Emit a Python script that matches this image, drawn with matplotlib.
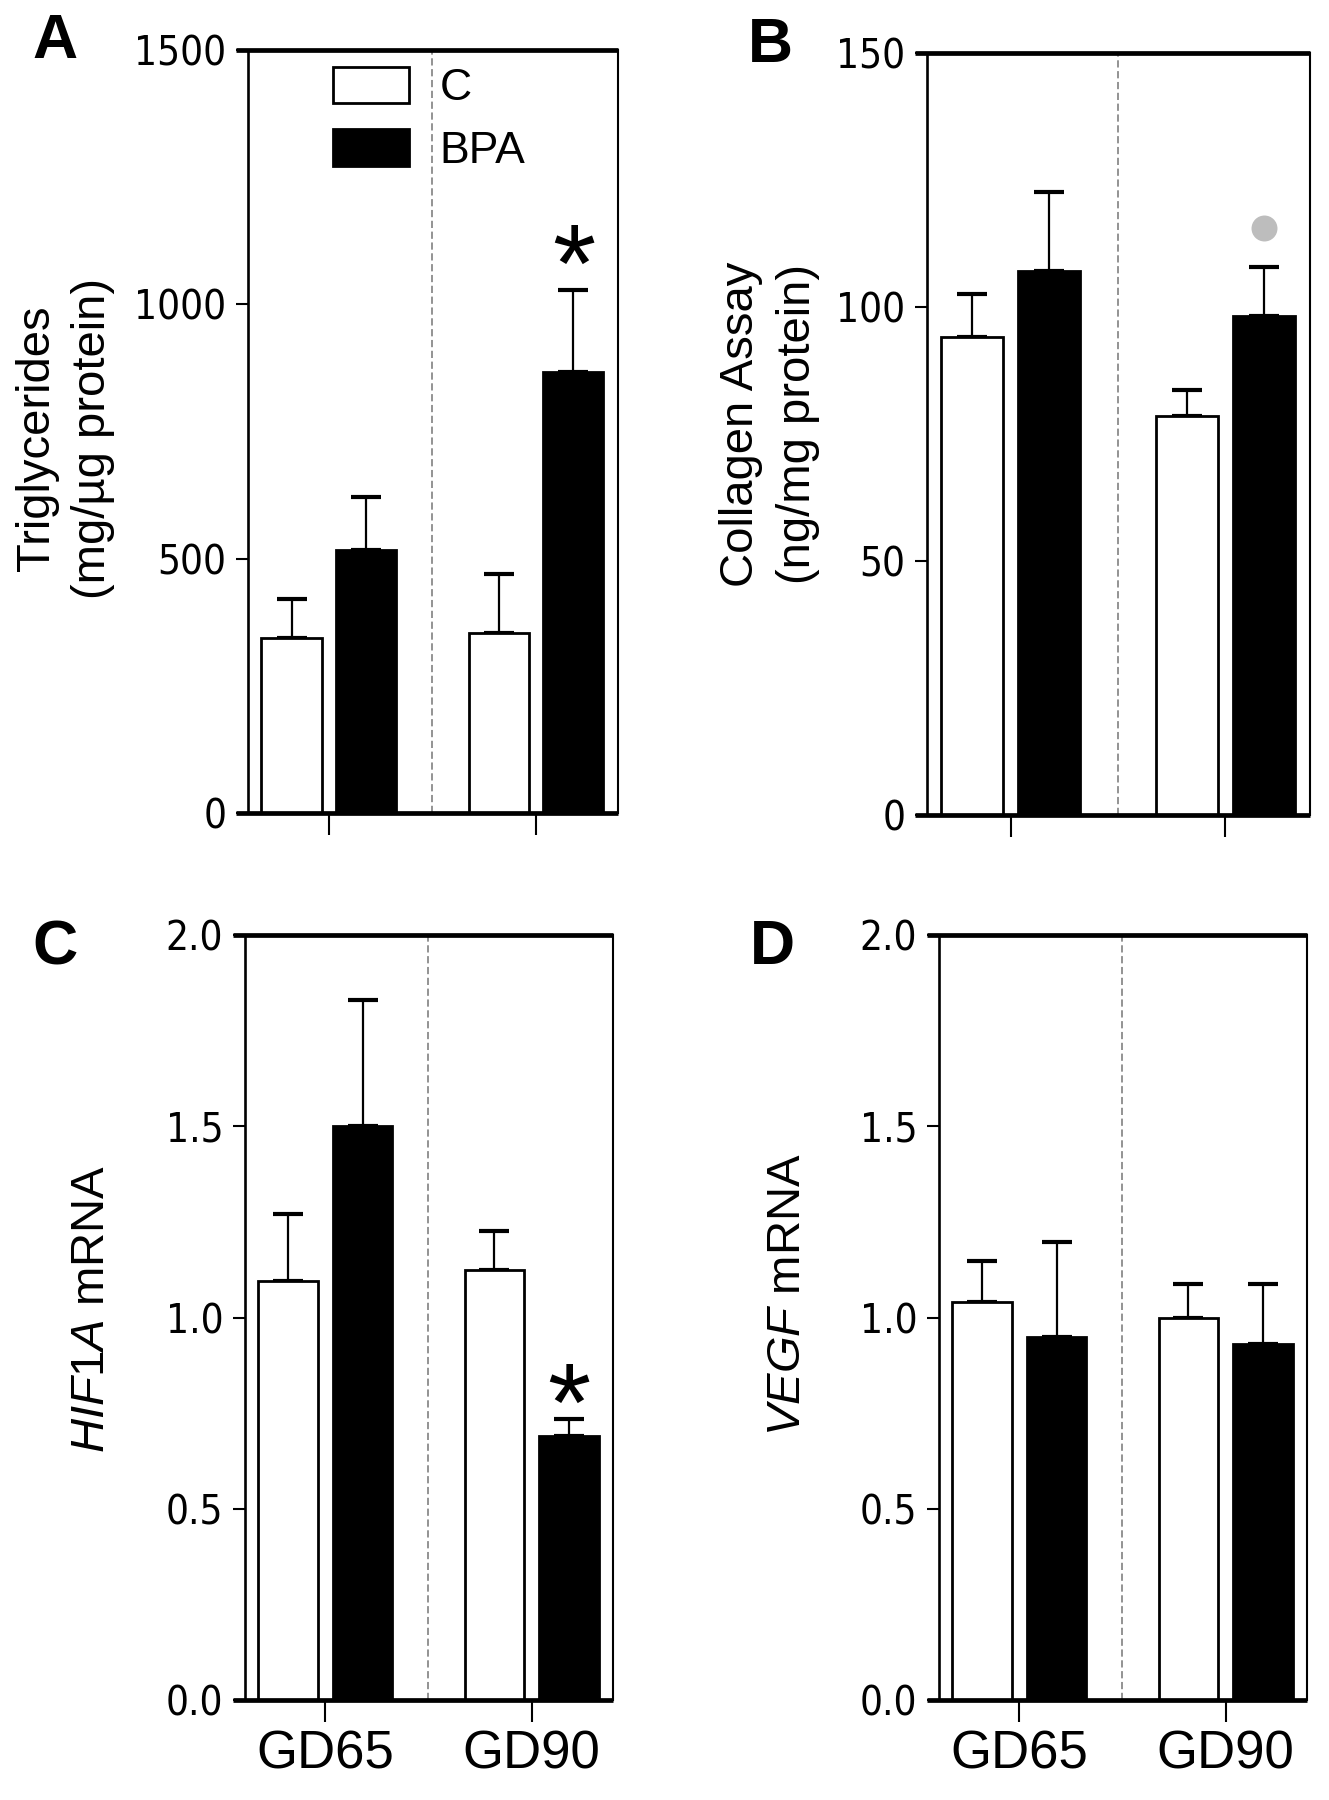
import matplotlib
matplotlib.use('Agg')
import matplotlib.pyplot as plt
import matplotlib.transforms as mtransforms
from matplotlib import font_manager as fm
import numpy as np

plt.rcParams['font.family'] = ['Liberation Sans', 'DejaVu Sans']
plt.rcParams['mathtext.fontset'] = 'custom'
plt.rcParams['mathtext.it'] = 'Liberation Sans:italic'
plt.rcParams['mathtext.rm'] = 'Liberation Sans'

# data (mean and top of SEM bar)
groups = ['GD65', 'GD90']
series = ['C', 'BPA']

tg_c = [344, 354]
tg_c_top = [421, 470]
tg_bpa = [518, 866]
tg_bpa_top = [622, 1029]

col_c = [94.1, 78.5]
col_c_top = [102.6, 83.7]
col_bpa = [107.1, 98.2]
col_bpa_top = [122.6, 107.9]

hif_c = [1.095, 1.123]
hif_c_top = [1.27, 1.227]
hif_bpa = [1.50, 0.69]
hif_bpa_top = [1.83, 0.735]

vegf_c = [1.04, 1.00]
vegf_c_top = [1.148, 1.087]
vegf_bpa = [0.949, 0.932]
vegf_bpa_top = [1.197, 1.087]


# narrow face for the tick numbers if one is installed
def pick_narrow():
    for f in fm.fontManager.ttflist:
        st = f.stretch
        narrow = 'Narrow' in f.name or 'Condensed' in f.name or \
            (isinstance(st, str) and 'condensed' in st) or (isinstance(st, int) and st < 500)
        if narrow and f.style == 'normal' and f.weight in (400, 'normal', 'regular', 'book'):
            return fm.FontProperties(fname=f.fname, size=29)
    return fm.FontProperties(family='Liberation Sans', size=27)


TICK_FP = pick_narrow()

fig = plt.figure(figsize=(13.29, 18), dpi=100)
W, H = 1329.0, 1800.0


def px_axes(left, top, right, bottom):
    return fig.add_axes([left / W, 1 - bottom / H, (right - left) / W, (bottom - top) / H])


def draw_panel(ax, c, c_top, bpa, bpa_top, ymax, yticks, yticklabels, ylabel,
               label_xy, show_xlabels, mark=None):
    x = np.arange(len(groups))
    off, bw = 0.18, 0.29
    c = np.array(c); bpa = np.array(bpa)
    bc = ax.bar(x - off, c, bw, color='white', edgecolor='black', linewidth=2.0, zorder=3, label=series[0])
    bb = ax.bar(x + off, bpa, bw, color='black', edgecolor='black', linewidth=2.0, zorder=3, label=series[1])
    ax.errorbar(x - off, c, yerr=[np.zeros_like(c), np.array(c_top) - c], fmt='none',
                ecolor='black', elinewidth=1.6, capsize=11, capthick=3, zorder=2)
    ax.errorbar(x + off, bpa, yerr=[np.zeros_like(bpa), np.array(bpa_top) - bpa], fmt='none',
                ecolor='black', elinewidth=1.6, capsize=11, capthick=3, zorder=2)

    ax.set_xlim(-0.39, 1.395)
    ax.set_ylim(0, ymax)
    ax.axvline(0.5, color='#8a8a8a', lw=1.3, ls=(0, (4, 2)), zorder=1)

    for s in ['top', 'bottom']:
        ax.spines[s].set_visible(False)
    ax.spines['left'].set_linewidth(1.9)
    ax.spines['right'].set_linewidth(1.5)
    # thick bottom and top lines, starting at the end of the y ticks
    for yy in (0, 1):
        ax.plot([-0.032, 1.0], [yy, yy], transform=ax.transAxes, color='black',
                lw=3.4, clip_on=False, solid_capstyle='butt', zorder=4)

    ax.set_yticks(yticks)
    ax.set_yticklabels(yticklabels, fontproperties=TICK_FP)
    ax.tick_params(axis='y', direction='out', length=8.6, width=1.5, pad=7)
    ax.set_xticks(x)
    if show_xlabels:
        ax.set_xticklabels(groups, fontsize=38)
    else:
        ax.set_xticklabels([])
    ax.tick_params(axis='x', direction='out', length=16, width=1.5, pad=5)

    ax.set_ylabel(ylabel, fontsize=34, linespacing=1.36, va='center')
    ax.yaxis.set_label_coords(*label_xy)

    if mark is not None:
        kind, idx, dy = mark
        tr = mtransforms.offset_copy(ax.transData, fig=fig, x=0, y=dy, units='points')
        if kind == 'star':
            ax.text(x[idx] + off, bpa_top[idx], '*', transform=tr, ha='center', va='center',
                    fontsize=80, fontfamily='Liberation Sans')
        else:
            ax.plot(x[idx] + off, bpa_top[idx], 'o', ms=18.7, color='#bdbdbd', mec='none',
                    transform=tr, clip_on=False)
    return bc, bb


axA = px_axes(248, 50, 618, 813)
axB = px_axes(927, 53, 1310, 815)
axC = px_axes(245, 935, 613, 1700)
axD = px_axes(939, 935, 1307, 1700)

bc, bb = draw_panel(axA, tg_c, tg_c_top, tg_bpa, tg_bpa_top, 1500, [0, 500, 1000, 1500],
                    ['0', '500', '1000', '1500'], 'Triglycerides\n(mg/\u00b5g protein)',
                    (-0.495, 0.491), False, mark=('star', 1, 12))
draw_panel(axB, col_c, col_c_top, col_bpa, col_bpa_top, 150, [0, 50, 100, 150],
           ['0', '50', '100', '150'], 'Collagen Assay\n(ng/mg protein)',
           (-0.411, 0.513), False, mark=('dot', 1, 28))
draw_panel(axC, hif_c, hif_c_top, hif_bpa, hif_bpa_top, 2.0, [0, 0.5, 1.0, 1.5, 2.0],
           ['0.0', '0.5', '1.0', '1.5', '2.0'], r'$\mathit{HIF1A}$ mRNA',
           (-0.416, 0.511), True, mark=('star', 1, 5))
draw_panel(axD, vegf_c, vegf_c_top, vegf_bpa, vegf_bpa_top, 2.0, [0, 0.5, 1.0, 1.5, 2.0],
           ['0.0', '0.5', '1.0', '1.5', '2.0'], r'$\mathit{VEGF}$ mRNA',
           (-0.41, 0.53), True)

axA.legend(handles=[bc, bb], loc='upper left', bbox_to_anchor=(0.23, 0.978),
           frameon=False, fontsize=32, handlelength=1.71, handleheight=0.88,
           handletextpad=0.68, labelspacing=0.45, borderpad=0, borderaxespad=0)

for letter, (lx, ly) in zip('ABCD', [(55, 42), (770, 45), (55, 948), (772, 948)]):
    fig.text(lx / W, 1 - ly / H, letter, fontsize=45, fontweight='bold',
             ha='center', va='center')

fig.savefig('out.png', dpi=100)
